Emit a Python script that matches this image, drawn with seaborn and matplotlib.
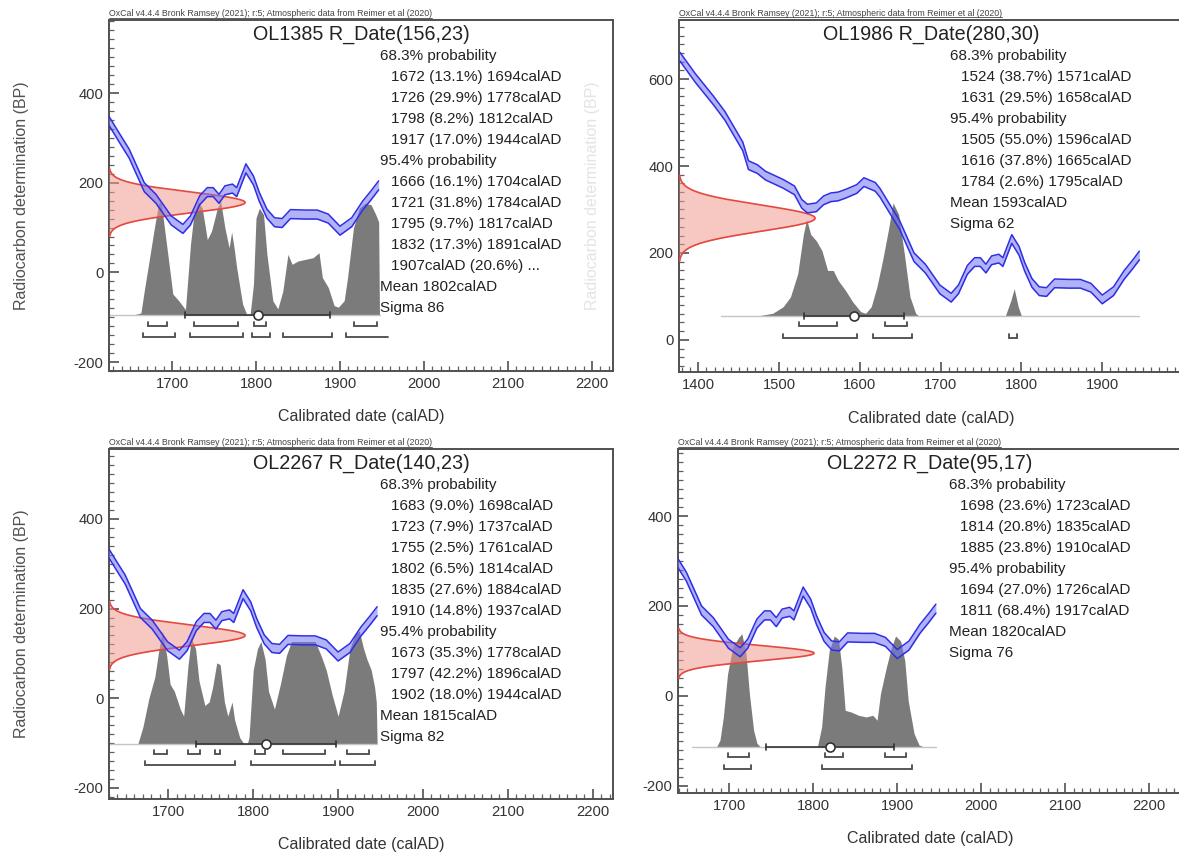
import numpy as np
import matplotlib
matplotlib.use("Agg")
import matplotlib.pyplot as plt
from matplotlib.ticker import MultipleLocator
import seaborn as sns

sns.set_theme(style="white")
plt.rcParams["font.family"] = ["Liberation Sans", "DejaVu Sans"]
plt.rcParams["axes.unicode_minus"] = False

HEADER = "OxCal v4.4.4 Bronk Ramsey (2021); r:5; Atmospheric data from Reimer et al (2020)"

# calibration curve (calAD, BP)
cal_year = [1377, 1396, 1419, 1433, 1455, 1462, 1473, 1483, 1505, 1519, 1528, 1535,
            1546, 1555, 1564, 1573, 1582, 1596, 1605, 1619, 1625, 1640, 1649, 1667,
            1681, 1699, 1713, 1722, 1733, 1742, 1749, 1756, 1763, 1772, 1777, 1788,
            1797, 1804, 1813, 1822, 1831, 1841, 1859, 1873, 1886, 1900, 1914, 1927,
            1937, 1946]
cal_bp = [652, 603, 550, 515, 445, 402, 393, 378, 359, 344, 313, 302,
          305, 321, 328, 330, 336, 347, 363, 352, 338, 292, 265, 190,
          164, 116, 97, 116, 161, 179, 179, 164, 183, 187, 179, 232,
          205, 168, 131, 112, 110, 130, 129, 129, 120, 93, 112, 149,
          172, 194]
cal_err = 10

# OL1385
ol1385_date = (156, 23)
ol1385_year = [1656, 1663, 1667, 1674, 1679, 1684, 1687, 1690, 1697, 1701, 1708, 1716,
               1722, 1726, 1731, 1736, 1742, 1747, 1754, 1758, 1763, 1768, 1771, 1774,
               1777, 1784, 1789, 1793, 1797, 1800, 1804, 1809, 1813, 1820, 1826, 1832,
               1838, 1843, 1850, 1859, 1868, 1875, 1879, 1886, 1893, 1898, 1905, 1909,
               1916, 1923, 1930, 1937, 1943, 1946, 1947]
ol1385_prob = [0, 5, 72, 182, 262, 335, 342, 282, 142, 62, 42, 15,
               212, 302, 342, 322, 227, 252, 322, 342, 262, 202, 250, 200,
               142, 32, 0, 0, 92, 292, 322, 302, 182, 42, 17, 72,
               182, 152, 162, 167, 172, 187, 112, 82, 27, 22, 42, 112,
               262, 322, 337, 332, 300, 280, 0]
ol1385_r68 = [(1672, 13.1, 1694), (1726, 29.9, 1778), (1798, 8.2, 1812), (1917, 17.0, 1944)]
ol1385_r95 = [(1666, 16.1, 1704), (1721, 31.8, 1784), (1795, 9.7, 1817),
              (1832, 17.3, 1891), (1907, 20.6, None)]
ol1385_mean, ol1385_sigma = 1802, 86

# OL1986
ol1986_date = (280, 30)
ol1986_year = [1473, 1492, 1505, 1514, 1523, 1530, 1534, 1539, 1546, 1553, 1560, 1567,
               1573, 1582, 1591, 1601, 1607, 1614, 1621, 1628, 1635, 1641, 1648, 1655,
               1662, 1669, 1673, 1780, 1787, 1791, 1796, 1800]
ol1986_prob = [0, 8, 28, 58, 128, 248, 293, 248, 228, 198, 138, 138,
               108, 78, 43, 13, 8, 28, 88, 168, 258, 343, 308, 188,
               58, 8, 0, 0, 48, 83, 28, 0]
ol1986_r68 = [(1524, 38.7, 1571), (1631, 29.5, 1658)]
ol1986_r95 = [(1505, 55.0, 1596), (1616, 37.8, 1665), (1784, 2.6, 1795)]
ol1986_mean, ol1986_sigma = 1593, 62

# OL2267
ol2267_date = (140, 23)
ol2267_year = [1664, 1670, 1677, 1684, 1689, 1693, 1698, 1702, 1707, 1714, 1718, 1723,
               1727, 1732, 1736, 1743, 1748, 1752, 1757, 1761, 1766, 1770, 1775, 1778,
               1784, 1789, 1793, 1795, 1800, 1805, 1809, 1814, 1818, 1825, 1832, 1839,
               1845, 1859, 1873, 1880, 1886, 1893, 1900, 1907, 1914, 1920, 1925, 1930,
               1934, 1939, 1943, 1945, 1946]
ol2267_prob = [0, 48, 128, 188, 268, 318, 248, 168, 148, 98, 78, 218,
               298, 268, 178, 108, 118, 158, 228, 223, 118, 78, 118, 68,
               18, 0, 0, 18, 208, 268, 288, 238, 148, 98, 168, 248,
               288, 288, 288, 248, 208, 138, 78, 148, 268, 308, 318, 268,
               238, 208, 160, 118, 0]
ol2267_r68 = [(1683, 9.0, 1698), (1723, 7.9, 1737), (1755, 2.5, 1761),
              (1802, 6.5, 1814), (1835, 27.6, 1884), (1910, 14.8, 1937)]
ol2267_r95 = [(1673, 35.3, 1778), (1797, 42.2, 1896), (1902, 18.0, 1944)]
ol2267_mean, ol2267_sigma = 1815, 82

# OL2272
ol2272_date = (95, 17)
ol2272_year = [1685, 1689, 1693, 1698, 1704, 1711, 1715, 1720, 1724, 1729, 1733, 1737,
               1805, 1810, 1814, 1819, 1825, 1830, 1834, 1838, 1845, 1854, 1863, 1871,
               1876, 1880, 1887, 1893, 1898, 1904, 1909, 1913, 1920, 1926, 1931]
ol2272_prob = [0, 20, 90, 220, 300, 330, 342, 280, 160, 50, 10, 0,
               0, 60, 180, 290, 335, 325, 240, 110, 105, 95, 90, 95,
               80, 160, 240, 300, 335, 320, 260, 140, 40, 5, 0]
ol2272_r68 = [(1698, 23.6, 1723), (1814, 20.8, 1835), (1885, 23.8, 1910)]
ol2272_r95 = [(1694, 27.0, 1726), (1811, 68.4, 1917)]
ol2272_mean, ol2272_sigma = 1820, 76

W, H = 1179, 852
panels = [
    dict(name="OL1385", date=ol1385_date, year=ol1385_year, prob=ol1385_prob,
         r68=ol1385_r68, r95=ol1385_r95, mean=ol1385_mean, sigma=ol1385_sigma,
         rect=(109, 20, 613, 371), xlim=(1625, 2225), ylim=(-220, 563),
         yticks=[-200, 0, 200, 400], xticks=[1700, 1800, 1900, 2000, 2100, 2200],
         base=-94, rows=(-119, -145), span=(1625, 1948), open_end=1957,
         ylabel="#505050"),
    dict(name="OL1986", date=ol1986_date, year=ol1986_year, prob=ol1986_prob,
         r68=ol1986_r68, r95=ol1986_r95, mean=ol1986_mean, sigma=ol1986_sigma,
         rect=(679, 20, 1183, 372), xlim=(1376, 2000), ylim=(-74, 736),
         yticks=[0, 200, 400, 600], xticks=[1400, 1500, 1600, 1700, 1800, 1900],
         base=55, rows=(31, 4), span=(1428, 1945), open_end=None,
         ylabel="#e4e4e4"),
    dict(name="OL2267", date=ol2267_date, year=ol2267_year, prob=ol2267_prob,
         r68=ol2267_r68, r95=ol2267_r95, mean=ol2267_mean, sigma=ol2267_sigma,
         rect=(109, 449, 613, 799), xlim=(1630, 2224), ylim=(-225, 556),
         yticks=[-200, 0, 200, 400], xticks=[1700, 1800, 1900, 2000, 2100, 2200],
         base=-102, rows=(-125, -150), span=(1630, 1946), open_end=None,
         ylabel="#505050"),
    dict(name="OL2272", date=ol2272_date, year=ol2272_year, prob=ol2272_prob,
         r68=ol2272_r68, r95=ol2272_r95, mean=ol2272_mean, sigma=ol2272_sigma,
         rect=(678, 449, 1182, 793), xlim=(1639, 2239), ylim=(-216, 549),
         yticks=[-200, 0, 200, 400], xticks=[1700, 1800, 1900, 2000, 2100, 2200],
         base=-113, rows=(-136, -162), span=(1656, 1946), open_end=None,
         ylabel=None),
]

DARK = "#4a4a4a"


def bracket(ax, x0, x1, y, h, right=True):
    xs = [x0, x0, x1, x1] if right else [x0, x0, x1]
    ys = [y + h, y, y, y + h] if right else [y + h, y, y]
    ax.plot(xs, ys, color=DARK, lw=1.3, zorder=5, solid_joinstyle="miter")


def draw_panel(ax, p):
    l, t, r, b = p["rect"]
    wpx, hpx = r - l, b - t
    x0, x1 = p["xlim"]
    y0, y1 = p["ylim"]
    ppb = hpx / (y1 - y0)  # pixels per BP
    ax.set_xlim(x0, x1)
    ax.set_ylim(y0, y1)

    # posterior distribution
    yr = np.array(p["year"], float)
    pr = np.array(p["prob"], float)
    top = p["base"] + pr / pr.max() * (113 / ppb)
    ax.fill_between(yr, p["base"], top, color="#7b7b7b", lw=0, zorder=2)
    ax.plot(p["span"], [p["base"]] * 2, color="#c4c4c4", lw=1.0, zorder=2)

    # radiocarbon date
    mu, sd = p["date"]
    yy = np.linspace(mu - 3.3 * sd, mu + 3.3 * sd, 300)
    dens = np.exp(-0.5 * ((yy - mu) / sd) ** 2)
    xx = x0 + 0.27 * (x1 - x0) * dens
    ax.fill_betweenx(yy, x0, xx, color="#f19a90", alpha=0.55, lw=0, zorder=3)
    sns.lineplot(x=xx, y=yy, sort=False, estimator=None, color="#e4483e",
                 lw=1.2, ax=ax, zorder=3)

    # calibration curve
    cy = np.array(cal_year, float)
    cb = np.array(cal_bp, float)
    ax.fill_between(cy, cb - cal_err, cb + cal_err, color="#7373f2", alpha=0.55,
                    lw=0, zorder=4)
    for edge in (cb - cal_err, cb + cal_err):
        sns.lineplot(x=cy, y=edge, estimator=None, color="#2e2ee6", lw=1.1,
                     ax=ax, zorder=4)

    # brackets
    h = 4 / ppb
    for a, pct, e in p["r68"]:
        bracket(ax, a, e, p["rows"][0], h)
    for a, pct, e in p["r95"]:
        if e is None:
            bracket(ax, a, p["open_end"], p["rows"][1], h, right=False)
        else:
            bracket(ax, a, e, p["rows"][1], h)

    # mean +- sigma
    m, s = p["mean"], p["sigma"]
    tk = 3 / ppb
    ax.plot([m - s, m + s], [p["base"]] * 2, color="#333333", lw=1.2, zorder=5)
    for xe in (m - s, m + s):
        ax.plot([xe, xe], [p["base"] - tk, p["base"] + tk], color="#333333", lw=1.2, zorder=5)
    ax.plot([m], [p["base"]], "o", ms=6.5, mfc="white", mec="#333333", mew=1.2, zorder=6)

    # text
    ax.text(0.5, 1 - 14 / hpx, f"{p['name']} R_Date({mu},{sd})", transform=ax.transAxes,
            ha="center", va="center", fontsize=14.2, color="#222222")
    lines = [("68.3% probability", False)]
    lines += [(f"{a} ({pct:.1f}%) {e}calAD", True) for a, pct, e in p["r68"]]
    lines += [("95.4% probability", False)]
    for a, pct, e in p["r95"]:
        if e is None:
            lines.append((f"{a}calAD ({pct:.1f}%) ...", True))
        else:
            lines.append((f"{a} ({pct:.1f}%) {e}calAD", True))
    lines += [(f"Mean {m}calAD", False), (f"Sigma {s}", False)]
    for i, (txt, ind) in enumerate(lines):
        ax.text(0.56 if ind else 0.538, 1 - (36 + 21 * i) / hpx, txt,
                transform=ax.transAxes, ha="left", va="center", fontsize=11,
                color="#222222")
    hdr = ax.text(0, 1 + 7 / hpx, HEADER, transform=ax.transAxes, ha="left",
                  va="center", fontsize=6.3, color="#444444")

    # axes styling
    for sp in ax.spines.values():
        sp.set_color("#505050")
        sp.set_linewidth(1.4)
    ax.set_xticks(p["xticks"])
    ax.set_yticks(p["yticks"])
    ax.xaxis.set_minor_locator(MultipleLocator(10))
    ax.yaxis.set_minor_locator(MultipleLocator(20))
    ax.tick_params(which="major", direction="in", length=7, width=1.2, color="#505050",
                   labelsize=10.6, labelcolor="#333333", pad=4,
                   bottom=True, left=True, top=False, right=False)
    ax.tick_params(which="minor", direction="in", length=3.5, width=0.9, color="#606060",
                   bottom=True, left=True, top=False, right=False)
    ax.set_xlabel("Calibrated date (calAD)", fontsize=11.5, color="#333333")
    ax.xaxis.set_label_coords(0.5, -46 / hpx)
    ax.xaxis.label.set_va("center")
    if p["ylabel"]:
        ax.set_ylabel("Radiocarbon determination (BP)", fontsize=11.5, color=p["ylabel"])
        ax.yaxis.set_label_coords(-87 / wpx, 0.5)
        ax.yaxis.label.set_va("center")
    return hdr


fig = plt.figure(figsize=(W / 100, H / 100), dpi=100)
headers = []
for p in panels:
    l, t, r, b = p["rect"]
    ax = fig.add_axes([l / W, 1 - b / H, (r - l) / W, (b - t) / H])
    headers.append((ax, draw_panel(ax, p), b - t))

# underline the OxCal header lines
fig.canvas.draw()
for ax, hdr, hpx in headers:
    tw = hdr.get_window_extent().width / ax.get_window_extent().width
    ax.plot([0, tw], [1 + 2.5 / hpx] * 2, transform=ax.transAxes, color="#444444",
            lw=0.6, clip_on=False)

fig.savefig("out.png", dpi=100, facecolor="white")
